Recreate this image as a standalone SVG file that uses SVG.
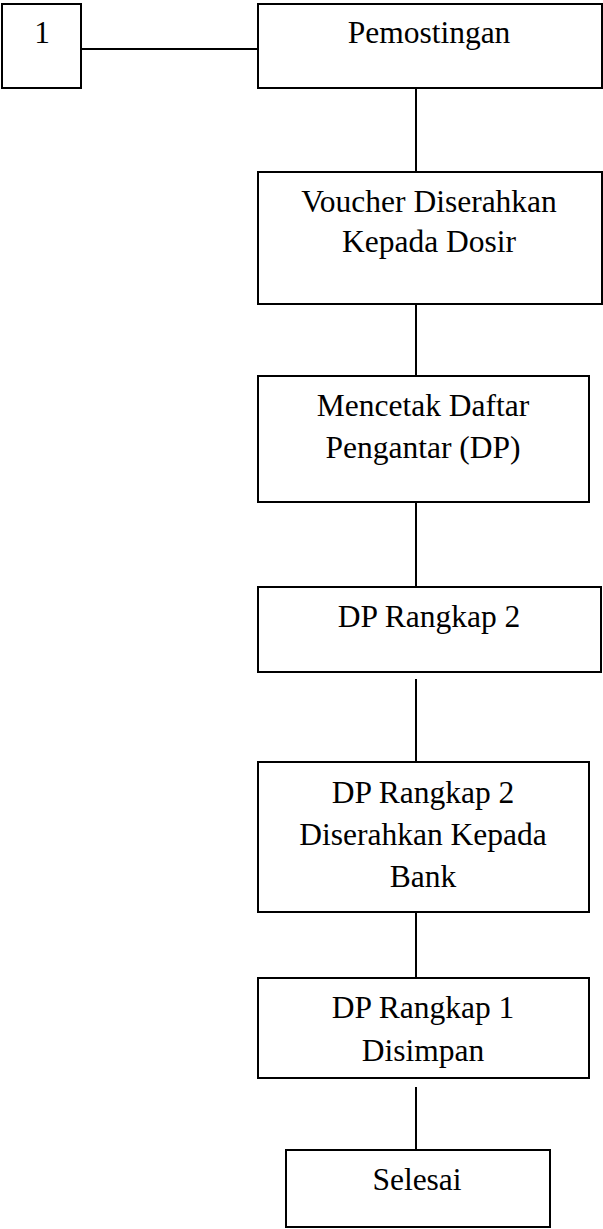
<svg xmlns="http://www.w3.org/2000/svg" width="603" height="1229" viewBox="0 0 603 1229">
  <style>
    .box { fill: #ffffff; stroke: #000000; stroke-width: 2; }
    .link { stroke: #000000; stroke-width: 2; fill: none; }
    .label { font-family: "Liberation Serif", "Times New Roman", serif; font-size: 31.5px; fill: #000000; text-anchor: middle; }
  </style>
  <rect x="0" y="0" width="603" height="1229" fill="#ffffff"/>

  <!-- connectors -->
  <g id="connectors">
    <line class="link" x1="81" y1="49" x2="258" y2="49"/>
    <line class="link" x1="416" y1="88" x2="416" y2="172"/>
    <line class="link" x1="416" y1="304" x2="416" y2="376"/>
    <line class="link" x1="416" y1="502" x2="416" y2="587"/>
    <line class="link" x1="416" y1="679" x2="416" y2="762"/>
    <line class="link" x1="416" y1="912" x2="416" y2="978"/>
    <line class="link" x1="416" y1="1087" x2="416" y2="1150"/>
  </g>

  <!-- off-page connector 1 -->
  <g id="node-1">
    <rect class="box" x="2" y="4" width="79" height="84"/>
    <text class="label" x="42" y="43">1</text>
  </g>

  <g id="node-pemostingan">
    <rect class="box" x="258" y="4" width="344" height="84"/>
    <text class="label" x="429" y="43">Pemostingan</text>
  </g>

  <g id="node-voucher">
    <rect class="box" x="258" y="172" width="344" height="132"/>
    <text class="label" x="429" y="212">Voucher Diserahkan</text>
    <text class="label" x="429" y="252">Kepada Dosir</text>
  </g>

  <g id="node-mencetak">
    <rect class="box" x="258" y="376" width="331" height="126"/>
    <text class="label" x="423" y="416">Mencetak Daftar</text>
    <text class="label" x="423" y="458">Pengantar (DP)</text>
  </g>

  <g id="node-dp-rangkap-2">
    <rect class="box" x="258" y="587" width="343" height="85"/>
    <text class="label" x="429" y="627">DP Rangkap 2</text>
  </g>

  <g id="node-dp-bank">
    <rect class="box" x="258" y="762" width="331" height="150"/>
    <text class="label" x="423" y="803">DP Rangkap 2</text>
    <text class="label" x="423" y="845">Diserahkan Kepada</text>
    <text class="label" x="423" y="887">Bank</text>
  </g>

  <g id="node-dp-rangkap-1">
    <rect class="box" x="258" y="978" width="331" height="100"/>
    <text class="label" x="423" y="1018">DP Rangkap 1</text>
    <text class="label" x="423" y="1061">Disimpan</text>
  </g>

  <g id="node-selesai">
    <rect class="box" x="286" y="1150" width="264" height="77"/>
    <text class="label" x="417" y="1190">Selesai</text>
  </g>
</svg>
